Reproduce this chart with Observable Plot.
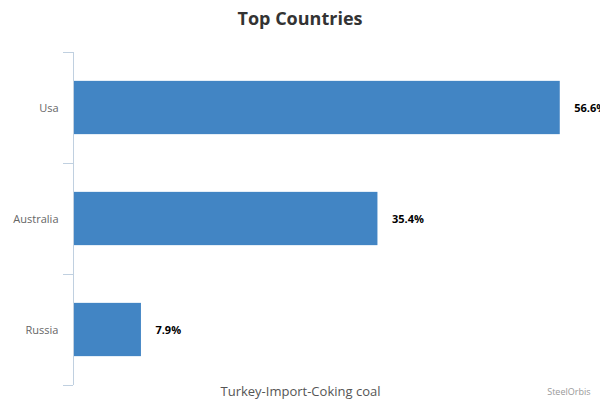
<!DOCTYPE html>
<html>
<head>
<meta charset="utf-8">
<script src="https://cdn.jsdelivr.net/npm/d3@7"></script>
<script src="https://cdn.jsdelivr.net/npm/@observablehq/plot@0.6"></script>
<style>
  html, body { margin: 0; padding: 0; background: #fff; overflow: hidden; width: 600px; height: 400px; }
  #title { height: 36px; line-height: 36px; text-align: center; font-family: "Open Sans", "DejaVu Sans", sans-serif; font-weight: bold; font-size: 18px; color: #333; }
  #chart svg { overflow: hidden; }
</style>
</head>
<body>
<div id="title">Top Countries</div>
<div id="chart"></div>
<script>
const categories = ["Usa", "Australia", "Russia"];
const values = [56.6, 35.4, 7.9];
const valueLabels = ["56.6%", "35.4%", "7.9%"];
const caption = "Turkey-Import-Coking coal";
const credit = "SteelOrbis";

const rows = categories.map((c, i) => ({category: c, value: values[i], label: valueLabels[i], i}));
const boundaries = d3.range(categories.length + 1);

const chart = Plot.plot({
  width: 600,
  height: 364,
  marginTop: 16,
  marginBottom: 15,
  marginLeft: 73,
  marginRight: 11,
  style: {fontFamily: "'Open Sans', 'DejaVu Sans', sans-serif", background: "#fff"},
  x: {type: "linear", domain: [0, 60], axis: null},
  y: {type: "linear", domain: [0, categories.length], reverse: true, axis: null},
  marks: [
    Plot.rect(rows, {x1: 0, x2: "value", y1: d => d.i + 0.26, y2: d => d.i + 0.74, fill: "#4285c4"}),
    Plot.ruleX([0], {stroke: "#c0d0e0", strokeWidth: 1}),
    Plot.axisY({ticks: boundaries, tickSize: 10, tickFormat: () => "", stroke: "#c0d0e0"}),
    Plot.text(rows, {x: 0, y: d => d.i + 0.5, text: "category", textAnchor: "end", dx: -15, fill: "#666", fontSize: 11}),
    Plot.text(rows, {x: "value", y: d => d.i + 0.5, text: "label", textAnchor: "start", dx: 14, fill: "#000", fontSize: 11, fontWeight: "bold"}),
    Plot.text([caption], {frameAnchor: "bottom", dx: -31, dy: 10, text: d => d, fill: "#555", fontSize: 13}),
    Plot.text([credit], {frameAnchor: "bottom-right", dx: 1, dy: 9, text: d => d, fill: "#999", fontSize: 9, textAnchor: "end"})
  ]
});
document.getElementById("chart").appendChild(chart);
</script>
</body>
</html>
